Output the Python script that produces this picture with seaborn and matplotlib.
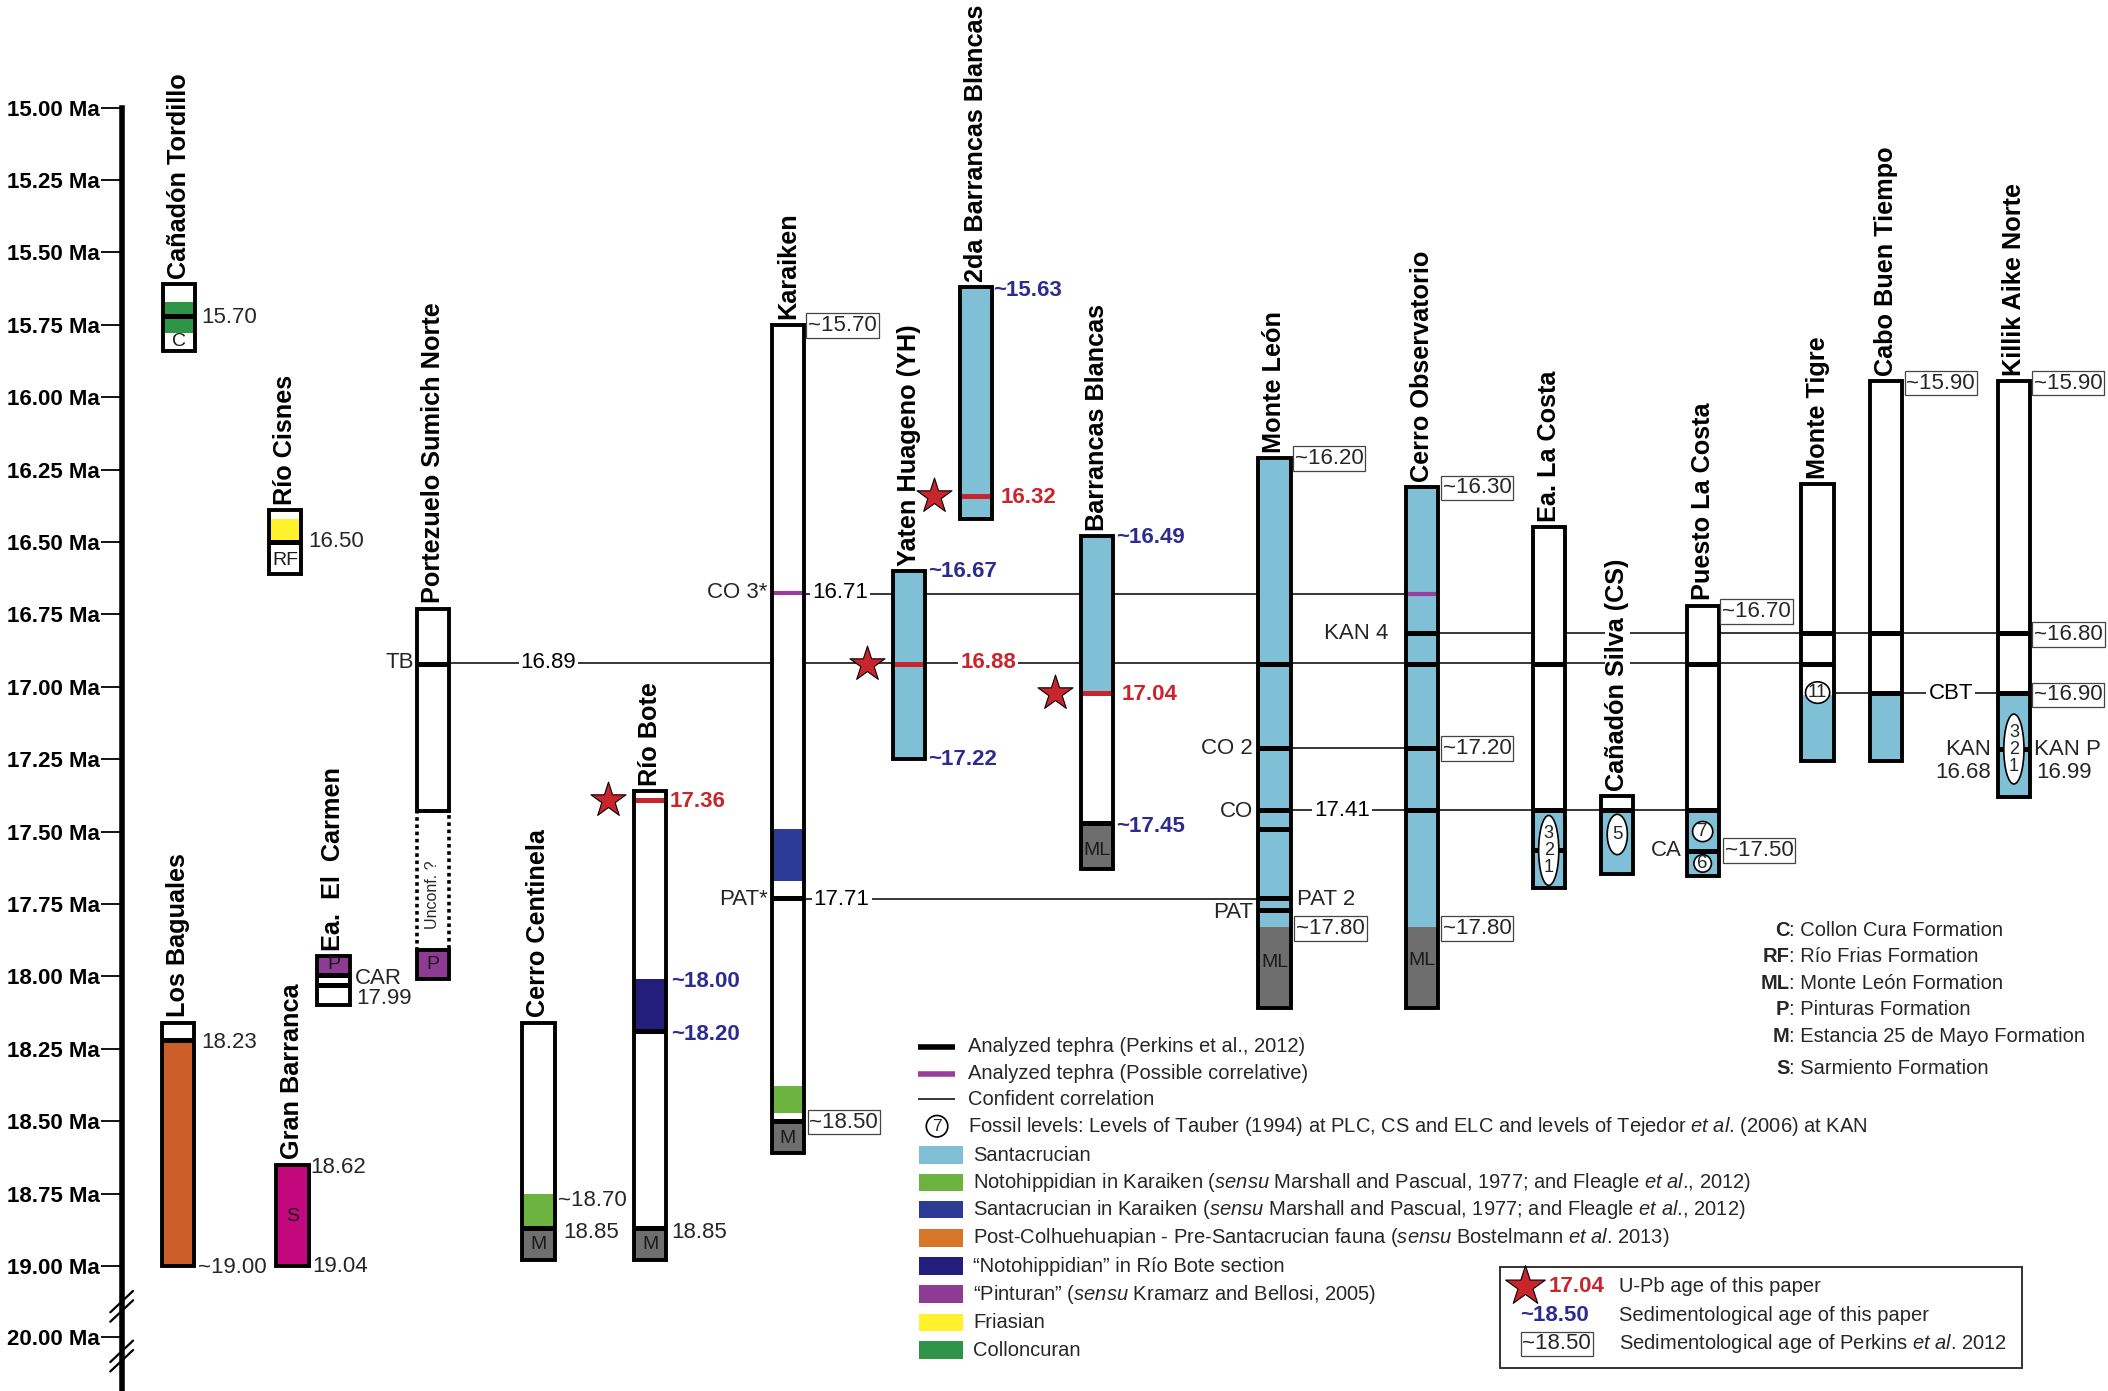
import numpy as np
import pandas as pd
import seaborn as sns
import matplotlib.pyplot as plt
from matplotlib.patches import Rectangle, Ellipse

# ---------------- data ----------------
sections = ["Cañadón Tordillo", "Río Cisnes", "Portezuelo Sumich Norte", "Los Baguales",
            "Gran Barranca", "Ea.  El  Carmen", "Cerro Centinela", "Río Bote", "Karaiken",
            "Yaten Huageno (YH)", "2da Barrancas Blancas", "Barrancas Blancas", "Monte León",
            "Cerro Observatorio", "Ea. La Costa", "Cañadón Silva (CS)", "Puesto La Costa",
            "Monte Tigre", "Cabo Buen Tiempo", "Killik Aike Norte"]
section_x = [133, 212, 322, 132.5, 217.5, 248, 400.5, 483.5, 586, 676, 726, 816, 948,
             1058, 1152, 1203, 1266.5, 1352, 1403, 1498]

# coloured intervals of each section (Ma)
seg_section = ["Cañadón Tordillo"] * 3 + ["Río Cisnes"] * 3 + ["Portezuelo Sumich Norte"] * 2 + \
    ["Los Baguales"] * 2 + ["Gran Barranca"] + ["Ea.  El  Carmen"] * 2 + ["Cerro Centinela"] * 3 + \
    ["Río Bote"] * 4 + ["Karaiken"] * 6 + ["Yaten Huageno (YH)"] + ["2da Barrancas Blancas"] + \
    ["Barrancas Blancas"] * 3 + ["Monte León"] * 2 + ["Cerro Observatorio"] * 2 + \
    ["Ea. La Costa"] * 2 + ["Cañadón Silva (CS)"] * 2 + ["Puesto La Costa"] * 2 + \
    ["Monte Tigre"] * 2 + ["Cabo Buen Tiempo"] * 2 + ["Killik Aike Norte"] * 2
seg_top = [15.61, 15.67, 15.78, 16.39, 16.42, 16.50, 16.73, 17.91, 18.16, 18.22, 18.65,
           17.93, 17.99, 18.16, 18.75, 18.87, 17.36, 18.01, 18.19, 18.87,
           15.75, 17.49, 17.67, 18.38, 18.47, 18.50, 16.60, 15.62, 16.48, 17.02, 17.47,
           16.21, 17.83, 16.31, 17.83, 16.45, 17.425, 17.378, 17.425, 16.72, 17.425,
           16.30, 17.03, 15.945, 17.02, 15.945, 17.02]
seg_base = [15.67, 15.78, 15.84, 16.42, 16.50, 16.61, 17.91, 18.01, 18.22, 19.00, 19.00,
            17.99, 18.10, 18.75, 18.87, 18.98, 18.01, 18.19, 18.87, 18.98,
            17.49, 17.67, 18.38, 18.47, 18.50, 18.61, 17.25, 16.42, 17.02, 17.47, 17.63,
            17.83, 18.11, 17.83, 18.11, 17.425, 17.695, 17.425, 17.648, 17.425, 17.654,
            17.03, 17.257, 17.02, 17.257, 17.02, 17.38]
seg_unit = ["W", "CC", "W", "W", "FR", "W", "W", "PI", "W", "PC", "SA",
            "PI", "W", "W", "NK", "GR", "W", "NR", "W", "GR",
            "W", "SK", "W", "NK", "W", "GR", "SC", "SC", "SC", "W", "GR",
            "SC", "GR", "SC", "GR", "W", "SC", "W", "SC", "W", "SC",
            "W", "SC", "W", "SC", "W", "SC"]

# outlines of each section
box_section = ["Cañadón Tordillo", "Río Cisnes", "Portezuelo Sumich Norte", "Portezuelo Sumich Norte",
               "Portezuelo Sumich Norte", "Los Baguales", "Gran Barranca", "Ea.  El  Carmen",
               "Cerro Centinela", "Río Bote", "Karaiken", "Yaten Huageno (YH)",
               "2da Barrancas Blancas", "Barrancas Blancas", "Monte León", "Cerro Observatorio",
               "Ea. La Costa", "Cañadón Silva (CS)", "Puesto La Costa", "Monte Tigre",
               "Cabo Buen Tiempo", "Killik Aike Norte"]
box_top = [15.61, 16.39, 16.73, 17.43, 17.91, 18.16, 18.65, 17.93, 18.16, 17.36, 15.75, 16.60,
           15.62, 16.48, 16.21, 16.31, 16.45, 17.378, 16.72, 16.30, 15.945, 15.945]
box_base = [15.84, 16.61, 17.43, 17.91, 18.01, 19.00, 19.00, 18.10, 18.98, 18.98, 18.61, 17.25,
            16.42, 17.63, 18.11, 18.11, 17.695, 17.648, 17.654, 17.257, 17.257, 17.38]
box_dotted = [False, False, False, True] + [False] * 18

# analysed tephras: black = Perkins et al. 2012, red = U-Pb this paper, purple = possible correlative
teph_section = ["Cañadón Tordillo", "Río Cisnes", "Portezuelo Sumich Norte", "Los Baguales",
                "Ea.  El  Carmen", "Ea.  El  Carmen", "Cerro Centinela", "Río Bote", "Río Bote",
                "Río Bote", "Karaiken", "Karaiken", "Karaiken", "Yaten Huageno (YH)",
                "2da Barrancas Blancas", "Barrancas Blancas", "Barrancas Blancas",
                "Monte León", "Monte León", "Monte León", "Monte León", "Monte León", "Monte León",
                "Cerro Observatorio", "Cerro Observatorio", "Cerro Observatorio",
                "Cerro Observatorio", "Cerro Observatorio", "Ea. La Costa", "Ea. La Costa",
                "Ea. La Costa", "Cañadón Silva (CS)", "Puesto La Costa", "Puesto La Costa",
                "Puesto La Costa", "Monte Tigre", "Monte Tigre", "Cabo Buen Tiempo",
                "Cabo Buen Tiempo", "Killik Aike Norte", "Killik Aike Norte", "Killik Aike Norte"]
teph_age = [15.72, 16.50, 16.92, 18.22, 17.995, 18.03, 18.87, 17.39, 18.19, 18.87,
            16.675, 17.73, 18.50, 16.92, 16.34, 17.02, 17.47,
            16.92, 17.21, 17.425, 17.49, 17.73, 17.77,
            16.68, 16.815, 16.92, 17.21, 17.425, 16.92, 17.425, 17.564, 17.425,
            16.92, 17.425, 17.568, 16.815, 16.92, 16.815, 17.02, 16.815, 17.02, 17.215]
teph_kind = ["k", "k", "k", "k", "k", "k", "k", "r", "k", "k",
             "p", "k", "k", "r", "r", "r", "k",
             "k", "k", "k", "k", "k", "k",
             "p", "k", "k", "k", "k", "k", "k", "k", "k",
             "k", "k", "k", "k", "k", "k", "k", "k", "k", "k"]

# confident correlations (Ma) between sections
corr_age = [16.917, 16.678, 16.815, 17.425, 17.733, 17.21, 17.02]
corr_from = ["Portezuelo Sumich Norte", "Karaiken", "Cerro Observatorio", "Monte León",
             "Karaiken", "Monte León", "Monte Tigre"]
corr_to = ["Monte Tigre", "Cerro Observatorio", "Killik Aike Norte", "Puesto La Costa",
           "Monte León", "Cerro Observatorio", "Killik Aike Norte"]

# U-Pb ages of this paper
star_section = ["Río Bote", "Yaten Huageno (YH)", "2da Barrancas Blancas", "Barrancas Blancas"]
star_age = [17.39, 16.92, 16.34, 17.02]

# fossil levels
fossil_section = ["Ea. La Costa", "Cañadón Silva (CS)", "Puesto La Costa", "Puesto La Costa",
                  "Monte Tigre", "Killik Aike Norte"]
fossil_age = [17.565, 17.51, 17.50, 17.61, 17.02, 17.215]
fossil_label = ["3\n2\n1", "5", "7", "6", "11", "3\n2\n1"]

axis_ages = [15.00, 15.25, 15.50, 15.75, 16.00, 16.25, 16.50, 16.75, 17.00, 17.25, 17.50,
             17.75, 18.00, 18.25, 18.50, 18.75, 19.00, 20.00]

units = ["SC", "NK", "SK", "PC", "NR", "PI", "FR", "CC"]
unit_names = ["Santacrucian",
              r"Notohippidian in Karaiken ($\mathit{sensu}$ Marshall and Pascual, 1977; and Fleagle $\mathit{et\ al}$., 2012)",
              r"Santacrucian in Karaiken $\mathit{(sensu}$ Marshall and Pascual, 1977; and Fleagle $\mathit{et\ al}$., 2012)",
              r"Post-Colhuehuapian - Pre-Santacrucian fauna ($\mathit{sensu}$ Bostelmann $\mathit{et\ al}$. 2013)",
              "“Notohippidian” in Río Bote section",
              r"“Pinturan” ($\mathit{sensu}$ Kramarz and Bellosi, 2005)",
              "Friasian", "Colloncuran"]
formations = ["C", "RF", "ML", "P", "M", "S"]
formation_names = ["Collon Cura Formation", "Río Frias Formation", "Monte León Formation",
                   "Pinturas Formation", "Estancia 25 de Mayo Formation", "Sarmiento Formation"]

colors = {"W": "white", "SC": "#80C0D6", "NK": "#6DB33F", "SK": "#2E3B96", "PC": "#CC5E2A",
          "NR": "#231D7C", "PI": "#8E3C93", "FR": "#FFF22D", "CC": "#2E9447", "GR": "#6E6E6E",
          "SA": "#C3077C"}
legend_colors = dict(colors, PC="#D8772C")
teph_colors = {"k": "black", "r": "#C9252C", "p": "#9B3D9A"}
RED, BLUE = "#C9252C", "#2D2A90"

# ---------------- figure ----------------
sns.set_theme(style="white")
plt.rcParams['font.family'] = ['Liberation Sans', 'DejaVu Sans']
plt.rcParams['mathtext.fontset'] = 'custom'
plt.rcParams['mathtext.rm'] = 'Liberation Sans'
plt.rcParams['mathtext.it'] = 'Liberation Sans:italic'

W, H = 1568, 1035
PX = 215.5  # pixels per Ma


def Y(py):
    return 15 + (py - 80) / PX


def axis_pos(a):
    return a if a <= 19 else 19 + (a - 19) * 0.246


xpos = dict(zip(sections, section_x))
BW = 24

fig = plt.figure(figsize=(21.08, 13.91), dpi=100)
ax = fig.add_axes([0, 0, 1, 1])
ax.set_xlim(0, W)
ax.set_ylim(Y(H), Y(0))

# y axis
for s in ["top", "right", "bottom"]:
    ax.spines[s].set_visible(False)
ax.spines["left"].set_position(("data", 91))
ax.spines["left"].set_bounds(15, Y(H))
ax.spines["left"].set_linewidth(4)
ax.spines["left"].set_color("black")
ax.set_xticks([])
ax.set_yticks([axis_pos(a) for a in axis_ages])
ax.set_yticklabels([f"{a:.2f} Ma" for a in axis_ages], fontweight="bold", fontsize=16)
ax.tick_params(axis="y", left=True, length=15, width=1.3, color="black", pad=1, labelcolor="black")
for yb in [972, 1009]:
    for off in [-3.5, 3.5]:
        ax.plot([82, 99], [Y(yb + 8 + off), Y(yb - 8 + off)], color="black", lw=1.6, zorder=6)

# correlation lines
for age, a, b in zip(corr_age, corr_from, corr_to):
    ax.hlines(age, xpos[a], xpos[b], color="black", lw=1.1, zorder=1)

# coloured intervals
segs = pd.DataFrame({"section": seg_section, "top": seg_top, "base": seg_base, "unit": seg_unit})
segs["x"] = segs["section"].map(xpos)
ax.bar(segs["x"], segs["base"] - segs["top"], bottom=segs["top"], width=BW,
       color=[colors[u] for u in segs["unit"]], linewidth=0, zorder=2)

# tephra levels
teph = pd.DataFrame({"section": teph_section, "age": teph_age, "kind": teph_kind})
teph["x"] = teph["section"].map(xpos)
for _, r in teph.iterrows():
    ax.hlines(r["age"], r["x"] - BW / 2, r["x"] + BW / 2, color=teph_colors[r["kind"]],
              lw=3.6 if r["kind"] != "p" else 3.0, zorder=3)

# outlines
for sec, t, b, d in zip(box_section, box_top, box_base, box_dotted):
    ax.add_patch(Rectangle((xpos[sec] - BW / 2, t), BW, b - t, fill=False, ec="black",
                           lw=2.6 if d else 2.8, ls=(0, (1, 1)) if d else "-", zorder=4))

# section titles
for sec, t in zip(box_section, box_top):
    if sec == "Portezuelo Sumich Norte" and t > 16.8:
        continue
    kw = dict(bbox=dict(fc="white", ec="none", pad=0.5)) if sec.startswith("Cañadón Silva") else {}
    ax.text(xpos[sec], t - 4 / PX, sec, rotation=90, ha="center", va="bottom",
            fontsize=18.2, fontweight="bold", color="black", zorder=5, **kw)

# formation letters inside sections
for sec, py, lab in [("Cañadón Tordillo", 254, "C"), ("Río Cisnes", 417, "RF"),
                     ("Ea.  El  Carmen", 718, "P"), ("Portezuelo Sumich Norte", 718, "P"),
                     ("Gran Barranca", 905, "S"), ("Cerro Centinela", 926, "M"),
                     ("Río Bote", 926, "M"), ("Karaiken", 847, "M"),
                     ("Barrancas Blancas", 633, "ML"), ("Monte León", 716, "ML"),
                     ("Cerro Observatorio", 715, "ML")]:
    ax.text(xpos[sec], Y(py), lab, ha="center", va="center", fontsize=14, color="#1a1a1a", zorder=5)
ax.text(322, Y(666), "Unconf. ?", rotation=90, ha="center", va="center", fontsize=11.5, zorder=5)

# fossil levels
for sec, age, lab in zip(fossil_section, fossil_age, fossil_label):
    n = lab.count("\n") + 1
    hpx = {1: 16, 3: 52}[n] if lab not in ("5", "6") else (30 if lab == "5" else 13)
    wpx = 18 if lab == "11" else 15
    if lab in ("7", "6"):
        wpx = hpx = 15 if lab == "7" else 13
    ax.add_patch(Ellipse((xpos[sec], age), wpx, hpx / PX, fc="white", ec="black", lw=1.2, zorder=5))
    ax.text(xpos[sec], age, lab, ha="center", va="center", fontsize=13.5 if n == 1 else 13,
            linespacing=1.0, zorder=6)

# stars (U-Pb ages)
sns.scatterplot(x=[xpos[s] - 31 for s in star_section], y=star_age, marker="*", s=700,
                color=RED, edgecolor="black", linewidth=0.8, ax=ax, legend=False, zorder=7)

# plain labels
plain = [(150, 236, "15.70", "left"), (229, 403, "16.50", "left"), (308, 493, "TB", "right"),
         (264, 728, "CAR", "left"), (265, 743, "17.99", "left"), (150, 776, "18.23", "left"),
         (147, 943, "~19.00", "left"), (231, 869, "18.62", "left"), (232, 942, "19.04", "left"),
         (415, 893, "~18.70", "left"), (419, 917, "18.85", "left"), (499, 917, "18.85", "left"),
         (571, 441, "CO 3*", "right"), (571, 669, "PAT*", "right"), (932, 557, "CO 2", "right"),
         (932, 604, "CO", "right"), (965, 669, "PAT 2", "left"), (932, 679, "PAT", "right"),
         (1033, 471, "KAN 4", "right"), (1251, 633, "CA", "right"), (1481, 558, "KAN", "right"),
         (1481, 575, "16.68", "right"), (1513, 558, "KAN P", "left"), (1515, 575, "16.99", "left")]
for x, py, s, ha in plain:
    ax.text(x, Y(py), s, ha=ha, va="center", fontsize=16, zorder=5)

# labels sitting on correlation lines
for x, py, s, c, w in [(408, 493, "16.89", "black", "normal"), (625, 441, "16.71", "black", "normal"),
                       (626, 669, "17.71", "black", "normal"), (998, 603, "17.41", "black", "normal"),
                       (1451, 516, "CBT", "black", "normal"), (735, 493, "16.88", RED, "bold")]:
    ax.text(x, Y(py), s, ha="center", va="center", fontsize=16, color=c, fontweight=w, zorder=5,
            bbox=dict(fc="white", ec="none", pad=1.5))

# red / blue ages of this paper
for x, py, s, c in [(498, 596, "17.36", RED), (744, 370, "16.32", RED), (834, 517, "17.04", RED),
                    (739, 216, "~15.63", BLUE), (690, 425, "~16.67", BLUE), (690, 565, "~17.22", BLUE),
                    (830, 400, "~16.49", BLUE), (830, 615, "~17.45", BLUE), (499, 730, "~18.00", BLUE),
                    (499, 770, "~18.20", BLUE)]:
    ax.text(x, Y(py), s, ha="left", va="center", fontsize=16, color=c, fontweight="bold", zorder=5)

# Perkins et al. 2012 ages (boxed)
boxed = [(601, 242, "~15.70"), (602, 835, "~18.50"), (963, 341, "~16.20"), (964, 691, "~17.80"),
         (1073, 363, "~16.30"), (1073, 557, "~17.20"), (1073, 691, "~17.80"), (1281, 455, "~16.70"),
         (1283, 633, "~17.50"), (1418, 285, "~15.90"), (1513, 285, "~15.90"), (1513, 472, "~16.80"),
         (1513, 517, "~16.90")]
for x, py, s in boxed:
    ax.text(x, Y(py), s, ha="left", va="center", fontsize=16, zorder=5,
            bbox=dict(boxstyle="square,pad=0.08", fc="white", ec="#444444", lw=0.9))

# ---------------- legends ----------------
LF = 14.5
ax.hlines(Y(779), 683, 710, color="black", lw=4)
ax.hlines(Y(799), 683, 710, color=teph_colors["p"], lw=4)
ax.hlines(Y(818), 683, 710, color="black", lw=1.1)
for py, s in [(779, "Analyzed tephra (Perkins et al., 2012)"),
              (799, "Analyzed tephra (Possible correlative)"), (818, "Confident correlation"),
              (838, r"Fossil levels: Levels of Tauber (1994) at PLC, CS and ELC and levels of Tejedor $\mathit{et\ al}$. (2006) at KAN")]:
    ax.text(720, Y(py), s, ha="left", va="center", fontsize=LF)
ax.add_patch(Ellipse((697, Y(838)), 16, 16 / PX, fc="white", ec="black", lw=1.2))
ax.text(697, Y(838), "7", ha="center", va="center", fontsize=12.5)

leg_py = [859.5, 880, 900, 921, 942, 963, 984, 1004.5]
ax.bar([700] * len(units), [13 / PX] * len(units), bottom=[Y(p) - 6.5 / PX for p in leg_py],
       width=33, color=[legend_colors[u] for u in units], linewidth=0)
for py, s in zip(leg_py, unit_names):
    ax.text(724, Y(py), s, ha="left", va="center", fontsize=LF)

for py, ab, name in zip([692, 712, 732, 751, 771, 795], formations, formation_names):
    ax.text(1331, Y(py), ab, ha="right", va="center", fontsize=LF, fontweight="bold")
    ax.text(1331, Y(py), ": " + name, ha="left", va="center", fontsize=LF)

ax.add_patch(Rectangle((1116, Y(943)), 388, 75 / PX, fill=False, ec="#333333", lw=1.4))
sns.scatterplot(x=[1134], y=[Y(957)], marker="*", s=900, color=RED, edgecolor="black",
                linewidth=0.8, ax=ax, legend=False, zorder=7)
ax.text(1152, Y(957), "17.04", ha="left", va="center", fontsize=16, color=RED, fontweight="bold")
ax.text(1156, Y(979), "~18.50", ha="center", va="center", fontsize=16, color=BLUE, fontweight="bold")
ax.text(1158, Y(1000), "~18.50", ha="center", va="center", fontsize=16,
        bbox=dict(boxstyle="square,pad=0.08", fc="white", ec="#444444", lw=0.9))
for py, s in [(957, "U-Pb age of this paper"), (979, "Sedimentological age of this paper"),
              (1000, r"Sedimentological age of Perkins $\mathit{et\ al}$. 2012")]:
    ax.text(1204, Y(py), s, ha="left", va="center", fontsize=LF)

fig.savefig("out.png", dpi=100)
